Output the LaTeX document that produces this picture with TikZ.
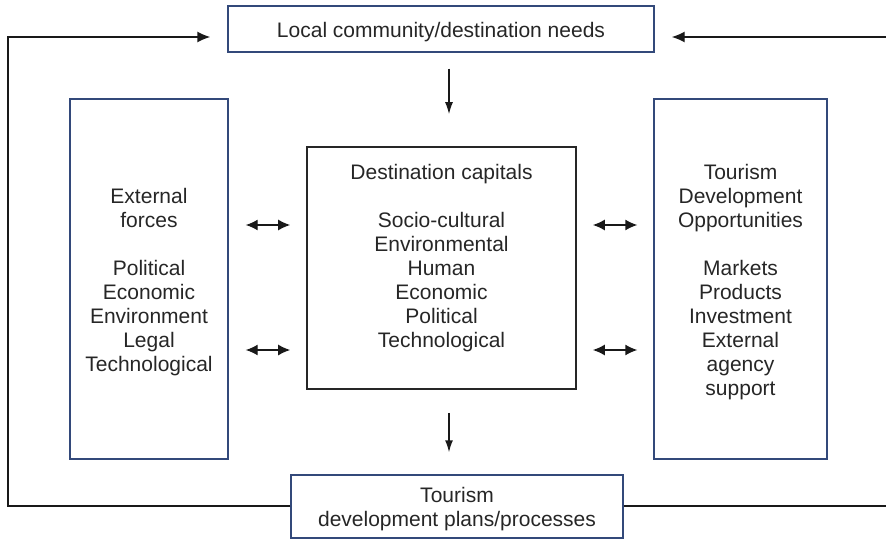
\documentclass[tikz,border=0pt]{standalone}
\usepackage{fontspec}
\setmainfont{Liberation Sans}
\usetikzlibrary{arrows.meta}
\definecolor{boxblue}{HTML}{33497A}
\begin{document}
\begin{tikzpicture}[x=1pt,y=-1pt,
  txt/.style={font=\fontsize{21}{24}\selectfont, text=black!85, align=center, inner sep=0pt},
  bluebox/.style={draw=boxblue, line width=1.4pt, inner sep=0pt},
  blackbox/.style={draw=black!85, line width=1.6pt, inner sep=0pt},
  conn/.style={line width=1.4pt, draw=black!90},
  bighead/.style={conn, -{Latex[length=13pt,width=11pt]}},
  dbl/.style={conn, {Latex[length=12pt,width=11pt]}-{Latex[length=12pt,width=11pt]}},
  downhead/.style={conn, -{Latex[length=12pt,width=8pt]}}
]
\useasboundingbox (0,0) rectangle (886,540);

% boxes
\node[bluebox, minimum width=426pt, minimum height=46pt] (top) at (441,29) {};
\node[bluebox, minimum width=158pt, minimum height=360pt] (ext) at (149,279) {};
\node[blackbox, minimum width=269pt, minimum height=242pt] (cap) at (441.5,268) {};
\node[bluebox, minimum width=173pt, minimum height=360pt] (opp) at (740.5,279) {};
\node[bluebox, minimum width=332pt, minimum height=63pt] (plan) at (457,506.5) {};

% box texts
\node[txt] (toptxt) at (441,32) {Local community/destination needs};
\node[txt] (exttxt) at (149,282)
  {External\\forces\\[24pt]Political\\Economic\\Environment\\Legal\\Technological};
\node[txt, anchor=north] (captxt) at (441.5,164)
  {Destination capitals\\[24pt]Socio-cultural\\Environmental\\Human\\Economic\\Political\\Technological};
\node[txt] (opptxt) at (740.5,282)
  {Tourism\\Development\\Opportunities\\[24pt]Markets\\Products\\Investment\\External\\agency\\support};
\node[txt] (plantxt) at (457,509.5) {Tourism\\development plans/processes};

% loop corners and free ends
\coordinate (lb) at (8,506);
\coordinate (lt) at (8,37);
\coordinate (rt) at (886,37);
\coordinate (rb) at (886,506);

% vertical arrows
\draw[downhead, shorten <=16pt, shorten >=32pt]
  ([xshift=8pt]top.south) -- ([xshift=8pt]top.south |- cap.north);
\draw[downhead, shorten <=23pt, shorten >=22pt]
  ([xshift=7.5pt]cap.south) -- ([xshift=7.5pt]cap.south |- plan.north);

% two-way arrows
\foreach \yy in {225,350}{
  \draw[dbl, shorten <=17pt, shorten >=16pt] (ext.east |- 0,\yy) -- (cap.west |- 0,\yy);
  \draw[dbl, shorten <=16pt, shorten >=16pt] (cap.east |- 0,\yy) -- (opp.west |- 0,\yy);
}

% feedback loop
\draw[bighead, shorten >=17pt] (plan.west |- lb) -- (lb) -- (lt) -- (lt -| top.west);
\draw[bighead, shorten >=17pt] (rt) -- (rt -| top.east);
\draw[conn] (plan.east |- rb) -- (rb);
\end{tikzpicture}
\end{document}
